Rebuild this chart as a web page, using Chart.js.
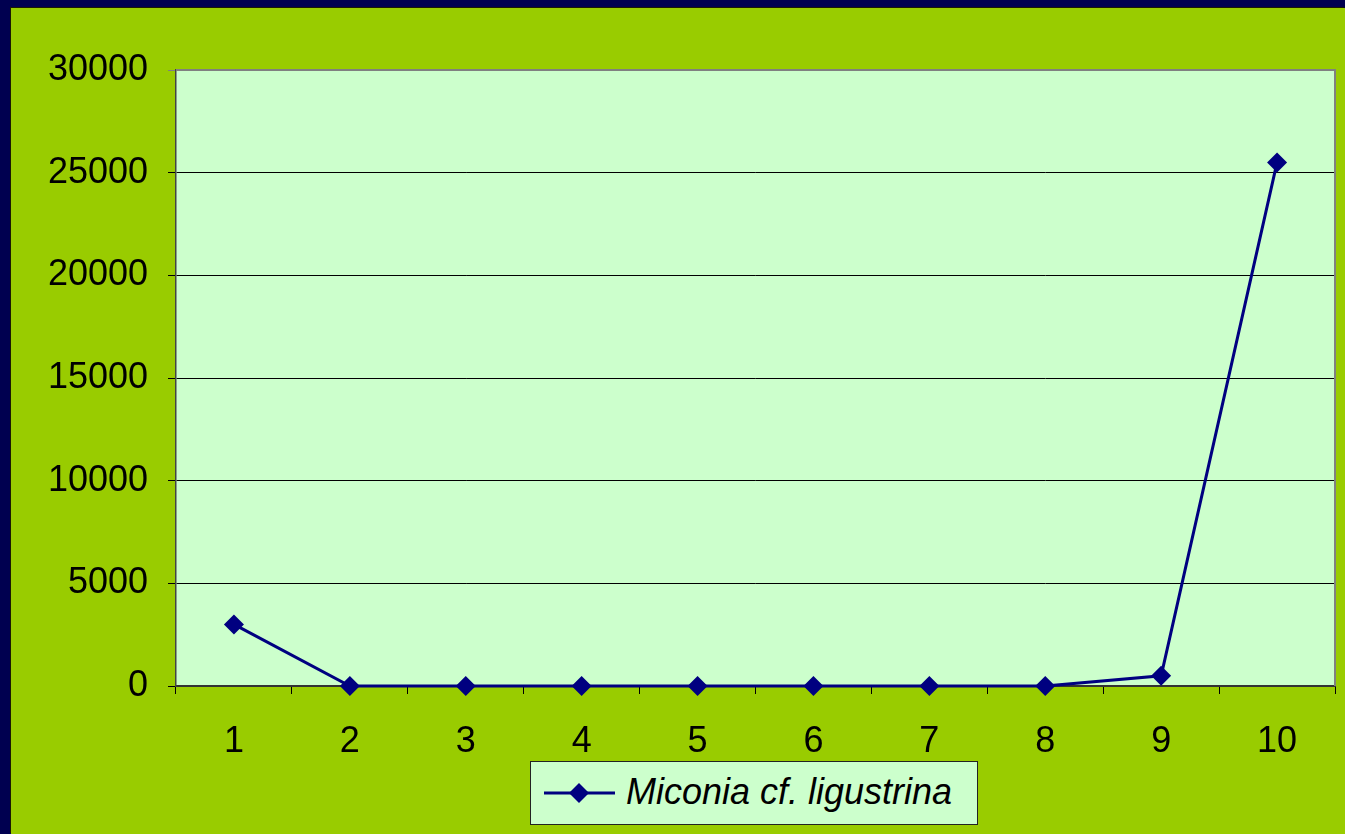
<!DOCTYPE html>
<html>
<head>
<meta charset="utf-8">
<script src="https://cdn.jsdelivr.net/npm/chart.js@4/dist/chart.umd.min.js"></script>
<style>
  html, body { margin: 0; padding: 0; }
  body { width: 1345px; height: 834px; background: #000050; position: relative; overflow: hidden; }
  #frame { position: absolute; left: 11px; top: 8px; width: 1334px; height: 826px; background: #99CC00; box-shadow: -1px -1px 0 #1a1a00; }
  #chartWrap { position: absolute; left: 0; top: 0; width: 1334px; height: 826px; }
  #legend { position: absolute; left: 519px; top: 753px; width: 446px; height: 62px; border: 1px solid #222; background: #CCFFCC; }
  #legend svg { position: absolute; left: 0; top: 0; }
  #legend span { position: absolute; left: 95px; top: 9px; font-family: "Liberation Sans", Arial, sans-serif; font-style: italic; font-size: 36px; line-height: 42px; color: #000; white-space: nowrap; }
</style>
</head>
<body>
<div id="frame">
  <div id="chartWrap"><canvas id="c" width="1334" height="826"></canvas></div>
  <div id="legend">
    <svg width="100" height="62"><line x1="13" y1="31" x2="84" y2="31" stroke="#000080" stroke-width="3"/><polygon points="48,21 58,31 48,41 38,31" fill="#000080"/></svg>
    <span id="legendText"></span>
  </div>
</div>
<script>
const categories = ['1', '2', '3', '4', '5', '6', '7', '8', '9', '10'];
const seriesName = 'Miconia cf. ligustrina';
const seriesValues = [3000, 0, 0, 0, 0, 0, 0, 0, 500, 25500];
const yTicks = [0, 5000, 10000, 15000, 20000, 25000, 30000];

document.getElementById('legendText').textContent = seriesName;

const FONT = '"Liberation Sans", Arial, sans-serif';

const plotBg = {
  id: 'plotBg',
  beforeDraw(chart) {
    const { ctx, chartArea: a } = chart;
    ctx.save();
    ctx.fillStyle = '#CCFFCC';
    ctx.fillRect(a.left, a.top, a.right - a.left, a.bottom - a.top);
    ctx.restore();
  },
  beforeDatasetsDraw(chart) {
    const { ctx, chartArea: a } = chart;
    ctx.save();
    ctx.strokeStyle = '#808080';
    ctx.lineWidth = 2;
    ctx.beginPath();
    ctx.moveTo(a.left, a.top);
    ctx.lineTo(a.right, a.top);
    ctx.lineTo(a.right, a.bottom);
    ctx.stroke();
    ctx.restore();
  }
};

new Chart(document.getElementById('c'), {
  type: 'line',
  data: {
    labels: categories,
    datasets: [{
      label: seriesName,
      data: seriesValues,
      borderColor: '#000080',
      backgroundColor: '#000080',
      borderWidth: 3,
      pointStyle: 'rectRot',
      pointRadius: 10,
      pointHoverRadius: 10,
      pointBackgroundColor: '#000080',
      pointBorderColor: '#000080',
      pointBorderWidth: 0,
      tension: 0,
      fill: false,
      clip: false
    }]
  },
  options: {
    responsive: false,
    animation: false,
    devicePixelRatio: 1,
    layout: { padding: { left: 0, top: 62, right: 10, bottom: 0 } },
    plugins: { legend: { display: false }, tooltip: { enabled: false } },
    scales: {
      x: {
        type: 'category',
        offset: true,
        afterFit(scale) { scale.height = 148; },
        grid: { offset: true, drawOnChartArea: false, drawTicks: true, tickLength: 8, color: '#000', lineWidth: 1 },
        border: { display: true, color: '#333', width: 2 },
        ticks: { color: '#000', font: { family: FONT, size: 36 }, padding: 26, maxRotation: 0, autoSkip: false }
      },
      y: {
        min: 0,
        max: 30000,
        afterFit(scale) { scale.width = 165; },
        afterBuildTicks(scale) { scale.ticks = yTicks.map(v => ({ value: v })); },
        grid: {
          color: (c) => (c.tick && c.tick.value === 30000) ? '#808080' : '#000',
          lineWidth: 1,
          tickLength: 8,
          drawTicks: true
        },
        border: { display: true, color: '#444', width: 1.5 },
        ticks: { color: '#000', font: { family: FONT, size: 36 }, padding: 20, callback: (v) => String(v) }
      }
    }
  },
  plugins: [plotBg]
});
</script>
</body>
</html>
